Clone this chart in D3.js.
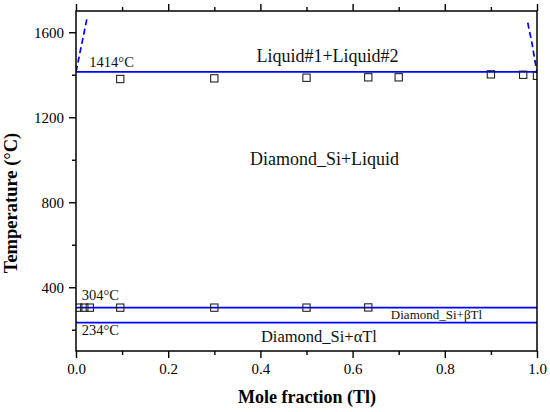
<!DOCTYPE html>
<html>
<head>
<meta charset="utf-8">
<script src="https://cdn.jsdelivr.net/npm/d3@7"></script>
<style>
  html, body { margin: 0; padding: 0; background: #fff; }
  svg, svg text { font-family: "Liberation Serif", "Times New Roman", "DejaVu Serif", serif; }
</style>
</head>
<body>
<svg id="chart" width="550" height="412"></svg>
<script>
// ---- data ----
const xDomain = [0, 1];
const yDomain = [100, 1700];
const xTickValues = [0, 0.2, 0.4, 0.6, 0.8, 1.0];
const xMinorTicks = [0.1, 0.3, 0.5, 0.7, 0.9];
const yTickValues = [400, 800, 1200, 1600];
const yMinorTicks = [200, 600, 1000, 1400];

// invariant reaction temperatures (°C)
const isotherms = [1414, 304, 234];

// liquidus (dashed) curves: [mole fraction Tl, temperature]
const leftLiquidus = [[0, 1414], [0.012, 1540], [0.0235, 1662]];
const rightLiquidus = [[0.980, 1645], [0.983, 1611], [0.9885, 1556], [0.994, 1485], [1.0, 1414]];

// experimental points (open squares)
const upperX = [0.096, 0.3, 0.5, 0.634, 0.70, 0.90, 0.97, 1.0];
const upperT = [1380, 1383, 1386, 1388, 1388, 1402, 1400, 1395];
const lowerX = [0.005, 0.018, 0.03, 0.096, 0.3, 0.5, 0.634];
const lowerT = [304, 304, 304, 304, 304, 304, 305];

// annotations
const labelText = ["Liquid#1+Liquid#2", "Diamond_Si+Liquid", "Diamond_Si+\u03b1Tl", "Diamond_Si+\u03b2Tl", "1414\u00b0C", "304\u00b0C", "234\u00b0C"];
const labelX = [0.5456, 0.539, 0.527, 0.683, 0.029, 0.0124, 0.0124];
const labelT = [1458.6, 975, 143.8, 250.6, 1438, 340, 175.3];
const labelAnchor = ["middle", "middle", "middle", "start", "start", "start", "start"];
const labelSize = [18, 18, 16.5, 13, 14.5, 14.5, 14.5];

// ---- chart ----
const FONT = "'Liberation Serif', 'Times New Roman', 'DejaVu Serif', serif";
const W = 550, H = 412;
const margin = { top: 11, right: 13, bottom: 61, left: 76 };
const svg = d3.select("#chart");
const x = d3.scaleLinear().domain(xDomain).range([margin.left, W - margin.right]);
const y = d3.scaleLinear().domain(yDomain).range([H - margin.bottom, margin.top]);

svg.append("defs").append("clipPath").attr("id", "plotclip")
  .append("rect")
  .attr("x", margin.left).attr("y", margin.top)
  .attr("width", W - margin.left - margin.right)
  .attr("height", H - margin.top - margin.bottom);

const plot = svg.append("g").attr("clip-path", "url(#plotclip)");

// isotherms
plot.selectAll("line.iso").data(isotherms).join("line")
  .attr("class", "iso")
  .attr("x1", x(0)).attr("x2", x(1))
  .attr("y1", d => y(d)).attr("y2", d => y(d))
  .attr("stroke", "#0000ff").attr("stroke-width", 1.7);

// liquidus dashed curves
const line = d3.line().x(d => x(d[0])).y(d => y(d[1])).curve(d3.curveMonotoneY);
[leftLiquidus, rightLiquidus].forEach(c => {
  plot.append("path").datum(c)
    .attr("d", line)
    .attr("fill", "none")
    .attr("stroke", "#0000ff")
    .attr("stroke-width", 1.7)
    .attr("stroke-dasharray", "6,3.5");
});

// squares
const sq = 7.3;
const pts = upperX.map((v, i) => [v, upperT[i]]).concat(lowerX.map((v, i) => [v, lowerT[i]]));
plot.selectAll("rect.pt").data(pts).join("rect")
  .attr("class", "pt")
  .attr("x", d => x(d[0]) - sq / 2)
  .attr("y", d => y(d[1]) - sq / 2)
  .attr("width", sq).attr("height", sq)
  .attr("fill", "none")
  .attr("stroke", "#222")
  .attr("stroke-width", 1.1);

// axes
function styleAxis(g) {
  g.attr("font-family", FONT).attr("font-size", 15);
  g.selectAll(".domain").remove();
  g.selectAll(".tick line").attr("stroke", "#000").attr("stroke-width", 1.4);
  g.selectAll(".tick text").attr("fill", "#000")
    .style("font-family", FONT).style("font-size", "15px");
}
const fmtX = d3.format(".1f");

// bottom
const gB = svg.append("g").attr("transform", `translate(0,${H - margin.bottom})`)
  .call(d3.axisBottom(x).tickValues(xTickValues).tickFormat(fmtX).tickSize(7).tickPadding(5));
styleAxis(gB);
gB.selectAll(".tick text").attr("dy", "0.71em");
svg.append("g").attr("transform", `translate(0,${H - margin.bottom})`)
  .call(d3.axisBottom(x).tickValues(xMinorTicks).tickFormat("").tickSize(4)).call(styleAxis);

// top
svg.append("g").attr("transform", `translate(0,${margin.top})`)
  .call(d3.axisTop(x).tickValues(xTickValues).tickFormat("").tickSize(7)).call(styleAxis);
svg.append("g").attr("transform", `translate(0,${margin.top})`)
  .call(d3.axisTop(x).tickValues(xMinorTicks).tickFormat("").tickSize(4)).call(styleAxis);

// left
const gL = svg.append("g").attr("transform", `translate(${margin.left},0)`)
  .call(d3.axisLeft(y).tickValues(yTickValues).tickFormat(d3.format("d")).tickSize(7).tickPadding(5));
styleAxis(gL);
svg.append("g").attr("transform", `translate(${margin.left},0)`)
  .call(d3.axisLeft(y).tickValues(yMinorTicks).tickFormat("").tickSize(4)).call(styleAxis);

// frame
svg.append("rect")
  .attr("x", x(0)).attr("y", y(yDomain[1]))
  .attr("width", x(1) - x(0)).attr("height", y(yDomain[0]) - y(yDomain[1]))
  .attr("fill", "none").attr("stroke", "#000").attr("stroke-width", 1.5);

// annotations
svg.selectAll("text.lab").data(labelText).join("text")
  .attr("class", "lab")
  .attr("x", (d, i) => x(labelX[i]))
  .attr("y", (d, i) => y(labelT[i]))
  .attr("text-anchor", (d, i) => labelAnchor[i])
  .attr("font-size", (d, i) => labelSize[i])
  .style("font-family", FONT)
  .attr("fill", "#111")
  .text(d => d);

// axis titles
svg.append("text")
  .attr("x", (x(0) + x(1)) / 2 + 0.5).attr("y", 403)
  .attr("text-anchor", "middle")
  .style("font-family", FONT)
  .attr("font-size", 18).attr("font-weight", "bold")
  .text("Mole fraction (Tl)");
svg.append("text")
  .attr("transform", `translate(17,${(y(yDomain[0]) + y(yDomain[1])) / 2 + 22}) rotate(-90)`)
  .attr("text-anchor", "middle")
  .style("font-family", FONT)
  .attr("font-size", 18.5).attr("font-weight", "bold")
  .text("Temperature (\u00b0C)");
</script>
</body>
</html>
